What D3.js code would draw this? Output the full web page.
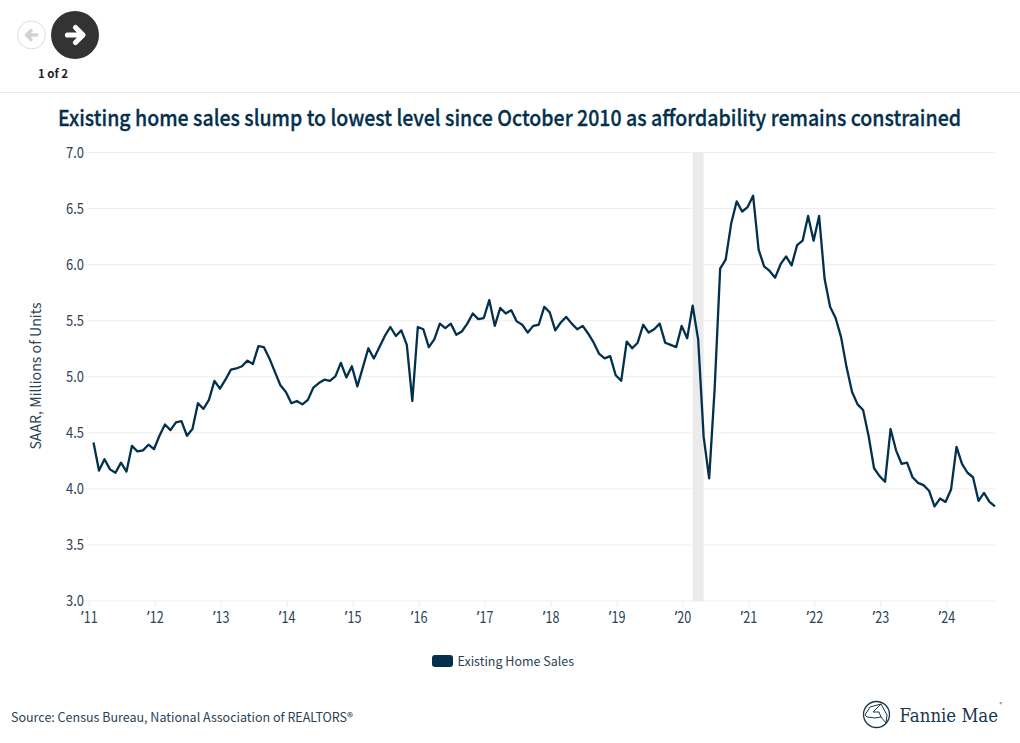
<!DOCTYPE html>
<html><head><meta charset="utf-8">
<script src="https://cdn.jsdelivr.net/npm/d3@7"></script>
<style>
html,body{margin:0;padding:0;background:#fff}
svg{display:block}
text{font-family:"Noto Sans CJK SC","Noto Sans",sans-serif}
</style></head><body>
<svg id="c" width="1020" height="743"></svg>
<script>
const titleText="Existing home sales slump to lowest level since October 2010 as affordability remains constrained";
const yAxisTitle="SAAR, Millions of Units";
const seriesName="Existing Home Sales";
const sourceText="Source: Census Bureau, National Association of REALTORS®";
const yTicks=[3,3.5,4,4.5,5,5.5,6,6.5,7];
const xTickLabels=["11","12","13","14","15","16","17","18","19","20","21","22","23","24"];
const sales=[
4.42,4.17,4.27,4.18,4.15,4.24,4.16,4.39,4.34,4.35,4.40,4.36,
4.48,4.58,4.53,4.60,4.61,4.48,4.54,4.77,4.72,4.80,4.97,4.90,
4.98,5.07,5.08,5.10,5.15,5.12,5.28,5.27,5.17,5.05,4.93,4.87,
4.77,4.79,4.76,4.80,4.91,4.95,4.98,4.97,5.01,5.13,5.00,5.10,
4.92,5.09,5.26,5.17,5.27,5.37,5.45,5.37,5.42,5.29,4.79,5.45,
5.43,5.27,5.34,5.48,5.44,5.48,5.38,5.41,5.48,5.57,5.52,5.53,
5.69,5.46,5.62,5.57,5.60,5.50,5.47,5.40,5.46,5.47,5.63,5.58,
5.42,5.49,5.54,5.48,5.43,5.46,5.39,5.31,5.21,5.17,5.19,5.02,
4.97,5.32,5.26,5.31,5.47,5.40,5.43,5.48,5.31,5.29,5.27,5.46,
5.35,5.64,5.34,4.47,4.10,4.90,5.97,6.05,6.37,6.57,6.48,6.52,
6.62,6.14,5.99,5.95,5.89,6.01,6.08,6.00,6.18,6.22,6.44,6.22,
6.44,5.88,5.63,5.53,5.36,5.09,4.87,4.76,4.71,4.48,4.19,4.12,
4.07,4.54,4.35,4.23,4.24,4.11,4.06,4.04,3.99,3.85,3.92,3.89,
4.00,4.38,4.23,4.15,4.11,3.90,3.97,3.89,3.85];
const recessionStart=109, recessionEnd=111; // month indices (Feb-Apr 2020)

const navy="#03304c", ink="#2c4356", grid="#eeeeee";
const svg=d3.select("#c");

const x=d3.scaleLinear().domain([0,sales.length-1]).range([93.5,995]);
const y=d3.scaleLinear().domain([3,7]).range([601,152.5]);
const tickOffset=-0.85;
const xTickVals=xTickLabels.map((_,i)=>i*12+tickOffset);

// nav header
svg.append("circle").attr("cx",31.5).attr("cy",35).attr("r",14).attr("fill","#fff").attr("stroke","#dcdcdc").attr("stroke-width",1);
svg.append("path").attr("d","M37 35H27M31 30.5L26.5 35L31 39.5").attr("fill","none").attr("stroke","#d3d3d3").attr("stroke-width",3.4).attr("stroke-linecap","round").attr("stroke-linejoin","round");
svg.append("circle").attr("cx",75).attr("cy",35).attr("r",24).attr("fill","#333333");
svg.append("path").attr("d","M67.5 35H82M75.5 27.5L83 35L75.5 42.5").attr("fill","none").attr("stroke","#fff").attr("stroke-width",5.2).attr("stroke-linecap","round").attr("stroke-linejoin","round");
svg.append("text").attr("x",53).attr("y",78).attr("text-anchor","middle").attr("font-size",11.5).attr("font-weight",700).attr("fill","#222").text("1 of 2");
svg.append("line").attr("x1",0).attr("x2",1020).attr("y1",92.5).attr("y2",92.5).attr("stroke","#eaeaea");

// title
svg.append("text").attr("x",58).attr("y",125.5).attr("font-size",22).attr("font-weight",500).attr("fill",navy)
  .attr("stroke",navy).attr("stroke-width",0.3)
  .attr("textLength",903).attr("lengthAdjust","spacingAndGlyphs").text(titleText);

// recession band
svg.append("rect").attr("x",x(recessionStart)).attr("width",x(recessionEnd)-x(recessionStart)).attr("y",y(7)).attr("height",y(3)-y(7)).attr("fill","#ebebeb");

// grid
svg.append("g").selectAll("line").data(yTicks).join("line")
 .attr("x1",88).attr("x2",995).attr("y1",d=>y(d)).attr("y2",d=>y(d)).attr("stroke",grid).attr("stroke-width",1);

// y axis
const yAxis=svg.append("g").attr("transform","translate(88,0)").call(d3.axisLeft(y).tickValues(yTicks).tickFormat(d3.format(".1f")).tickSize(0).tickPadding(4));
yAxis.select(".domain").remove();
yAxis.selectAll("text").attr("font-size",15.5).attr("fill",ink).attr("textLength",18).attr("lengthAdjust","spacingAndGlyphs");

// x axis
const xAxis=svg.append("g").attr("transform","translate(0,601)").call(d3.axisBottom(x).tickValues(xTickVals).tickFormat(d=>"").tickSize(6).tickPadding(5));
xAxis.select(".domain").remove();
xAxis.selectAll("line").attr("stroke","#eeeeee");
xAxis.selectAll("text").each(function(_,i){
  const t=d3.select(this).attr("font-size",15.5).attr("fill",ink);
  t.append("tspan").style("font-family",'"Noto Sans"').attr("font-size",15.5).text("’");
  t.append("tspan").attr("textLength",14).attr("lengthAdjust","spacingAndGlyphs").text(xTickLabels[i]);
});

// y title
svg.append("text").attr("transform","translate(41,376) rotate(-90)").attr("text-anchor","middle").attr("font-size",14.2).attr("fill",ink).text(yAxisTitle);

// line
svg.append("path").datum(sales).attr("fill","none").attr("stroke",navy).attr("stroke-width",2.3).attr("stroke-linejoin","round")
 .attr("transform","translate(0,0.7)")
 .attr("d",d3.line().x((d,i)=>x(i)).y(d=>y(d)));

// legend
svg.append("rect").attr("x",432).attr("y",655).attr("width",21).attr("height",12).attr("rx",3).attr("fill",navy);
svg.append("text").attr("x",457.5).attr("y",666).attr("font-size",12.5).attr("fill",ink).text(seriesName);

// source
svg.append("text").attr("x",11).attr("y",722).attr("font-size",12.5).attr("fill",ink).text(sourceText);

// logo
const logo=svg.append("g");
logo.append("circle").attr("cx",876.5).attr("cy",714.5).attr("r",13).attr("fill","none").attr("stroke","#17364c").attr("stroke-width",1.3);
logo.append("path").attr("d","M865 715L870 707L881 704L887 715L886 723L881 717L875 718L867 717Z M881 704L873 712L879 712L881 717").attr("fill","none").attr("stroke","#17364c").attr("stroke-width",1).attr("stroke-linejoin","round");
logo.append("text").attr("x",899.5).attr("y",721.5).attr("font-size",19).attr("fill","#17364c").style("font-family",'"DejaVu Serif"').attr("textLength",98.5).attr("lengthAdjust","spacingAndGlyphs").text("Fannie Mae");
logo.append("text").attr("x",999.5).attr("y",706).attr("font-size",5).attr("fill","#17364c").text("®");
</script>
</body></html>
